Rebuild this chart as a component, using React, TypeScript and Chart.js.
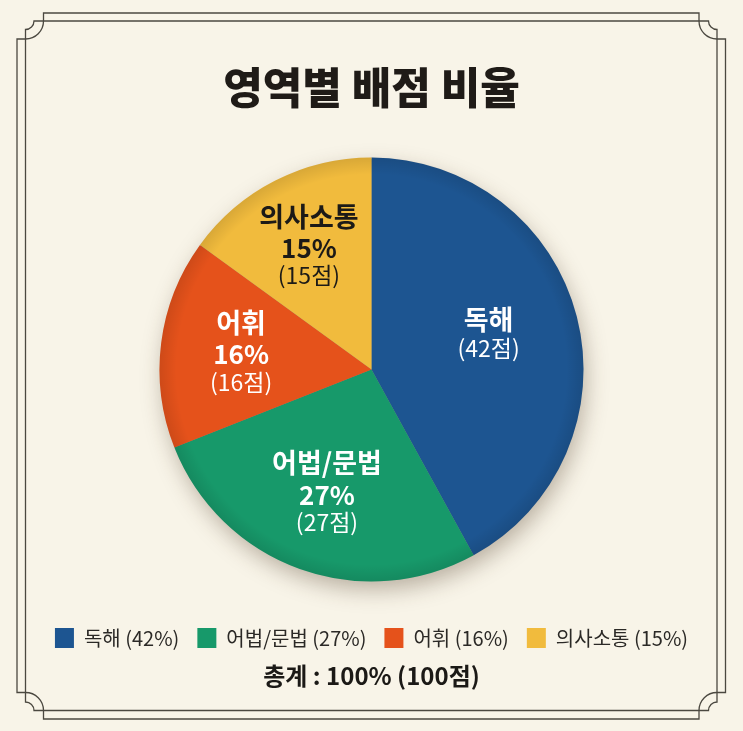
import React, { useEffect, useRef } from 'react';
import { Chart, registerables } from 'chart.js';

Chart.register(...registerables);

// ---- data ----
const categories = ['독해', '어법/문법', '어휘', '의사소통'];
const scores = [42, 27, 16, 15];
const percents = [42, 27, 16, 15];
const showPercent = [false, true, true, true];
const chartTitle = '영역별 배점 비율';

// ---- style ----
const sliceColors = ['#1d5591', '#17996a', '#e5521b', '#f1bb3d'];
const labelColors = ['#ffffff', '#ffffff', '#ffffff', '#1c1a17'];
const labelRadius = [0.57, 0.62, 0.62, 0.65];
const FONT = "'Noto Sans CJK KR', 'Noto Sans', sans-serif";
const BG = '#f8f4e8';

const framePlugin = {
  id: 'frame',
  beforeDraw(chart: any) {
    const { ctx, width, height } = chart;
    ctx.save();
    ctx.fillStyle = BG;
    ctx.fillRect(0, 0, width, height);
    const xoL = 17, xiL = 25.5, xoR = 725.5, xiR = 717;
    const yoT = 13, yiT = 21, yoB = 719, yiB = 710.5;
    const R = 18, r = 8.5;
    ctx.strokeStyle = '#4b4840';
    ctx.lineWidth = 1.3;
    // outer
    ctx.beginPath();
    ctx.moveTo(xiL + R, yoT);
    ctx.lineTo(xiR - R, yoT);
    ctx.lineTo(xiR - R, yiT);
    ctx.arc(xiR, yiT, R, Math.PI, Math.PI / 2, true);
    ctx.lineTo(xoR, yiT + R);
    ctx.lineTo(xoR, yiB - R);
    ctx.lineTo(xiR, yiB - R);
    ctx.arc(xiR, yiB, R, -Math.PI / 2, -Math.PI, true);
    ctx.lineTo(xiR - R, yoB);
    ctx.lineTo(xiL + R, yoB);
    ctx.lineTo(xiL + R, yiB);
    ctx.arc(xiL, yiB, R, 0, -Math.PI / 2, true);
    ctx.lineTo(xoL, yiB - R);
    ctx.lineTo(xoL, yiT + R);
    ctx.lineTo(xiL, yiT + R);
    ctx.arc(xiL, yiT, R, Math.PI / 2, 0, true);
    ctx.closePath();
    ctx.stroke();
    // inner
    ctx.beginPath();
    ctx.moveTo(xiL + r, yiT);
    ctx.lineTo(xiR - r, yiT);
    ctx.arc(xiR, yiT, r, Math.PI, Math.PI / 2, true);
    ctx.lineTo(xiR, yiB - r);
    ctx.arc(xiR, yiB, r, -Math.PI / 2, -Math.PI, true);
    ctx.lineTo(xiL + r, yiB);
    ctx.arc(xiL, yiB, r, 0, -Math.PI / 2, true);
    ctx.lineTo(xiL, yiT + r);
    ctx.arc(xiL, yiT, r, Math.PI / 2, 0, true);
    ctx.closePath();
    ctx.stroke();
    ctx.restore();
  },
};

const shadowPlugin = {
  id: 'pieShadow',
  beforeDatasetsDraw(chart: any) {
    const arc = chart.getDatasetMeta(0).data[0];
    if (!arc) return;
    const { x, y, outerRadius } = arc.getProps(['x', 'y', 'outerRadius'], true);
    const ctx = chart.ctx;
    ctx.save();
    ctx.shadowColor = 'rgba(70, 50, 30, 0.35)';
    ctx.shadowBlur = 22;
    ctx.shadowOffsetX = 3;
    ctx.shadowOffsetY = 9;
    ctx.fillStyle = '#888';
    ctx.beginPath();
    ctx.arc(x, y, outerRadius - 1, 0, Math.PI * 2);
    ctx.fill();
    ctx.restore();
  },
};

const labelPlugin = {
  id: 'sliceLabels',
  afterDatasetsDraw(chart: any) {
    const ctx = chart.ctx;
    const meta = chart.getDatasetMeta(0);
    const first = meta.data[0];
    if (first) {
      const { x, y, outerRadius } = first.getProps(['x', 'y', 'outerRadius'], true);
      const g = ctx.createRadialGradient(x, y, outerRadius * 0.92, x, y, outerRadius);
      g.addColorStop(0, 'rgba(0,0,0,0)');
      g.addColorStop(1, 'rgba(0,0,0,0.1)');
      ctx.save();
      ctx.fillStyle = g;
      ctx.beginPath();
      ctx.arc(x, y, outerRadius, 0, Math.PI * 2);
      ctx.fill();
      ctx.restore();
    }
    meta.data.forEach((arc: any, i: number) => {
      const { x, y, startAngle, endAngle, outerRadius } = arc.getProps(
        ['x', 'y', 'startAngle', 'endAngle', 'outerRadius'],
        true
      );
      const mid = (startAngle + endAngle) / 2;
      const rr = outerRadius * labelRadius[i];
      const cx = x + Math.cos(mid) * rr;
      const cy = y + Math.sin(mid) * rr;
      const lines: { text: string; font: string }[] = [];
      lines.push({ text: categories[i], font: `bold 27px ${FONT}` });
      if (showPercent[i]) lines.push({ text: `${percents[i]}%`, font: `bold 26px ${FONT}` });
      lines.push({ text: `(${scores[i]}점)`, font: `23px ${FONT}` });
      const offs = lines.length === 3 ? [-30, 1.5, 29] : [-20, 9];
      ctx.save();
      ctx.fillStyle = labelColors[i];
      ctx.textAlign = 'center';
      ctx.textBaseline = 'middle';
      lines.forEach((ln, k) => {
        ctx.font = ln.font;
        ctx.fillText(ln.text, cx, cy + offs[k]);
      });
      ctx.restore();
    });
  },
};

export default function App() {
  const canvasRef = useRef<HTMLCanvasElement | null>(null);

  useEffect(() => {
    if (!canvasRef.current) return;
    const total = scores.reduce((a, b) => a + b, 0);
    const chart = new Chart(canvasRef.current, {
      type: 'pie',
      data: {
        labels: categories,
        datasets: [
          {
            data: scores,
            backgroundColor: sliceColors,
            borderWidth: 0,
            radius: 212,
          } as any,
        ],
      },
      options: {
        responsive: true,
        maintainAspectRatio: false,
        animation: false,
        layout: { padding: { top: 0, bottom: 0, left: 20, right: 20 } },
        plugins: {
          title: {
            display: true,
            text: chartTitle,
            color: '#1f1b17',
            font: { family: FONT, size: 43, weight: 900, lineHeight: 1.2 },
            padding: { top: 62, bottom: 15.4 },
          },
          legend: {
            position: 'bottom',
            labels: {
              boxWidth: 19,
              boxHeight: 20,
              padding: 18,
              color: '#2b2926',
              font: { family: FONT, size: 20 },
              generateLabels: () =>
                categories.map((c, i) => ({
                  text: `${c} (${percents[i]}%)`,
                  fillStyle: sliceColors[i],
                  strokeStyle: sliceColors[i],
                  lineWidth: 0,
                  hidden: false,
                  index: i,
                  fontColor: '#2b2926',
                })),
            },
          },
          subtitle: {
            display: true,
            position: 'bottom',
            text: `총계 : ${total}% (${total}점)`,
            color: '#1b1916',
            font: { family: FONT, size: 24, weight: 'bold', lineHeight: 1.2 },
            padding: { top: 3.6, bottom: 40.6 },
          },
          tooltip: { enabled: false },
        },
      },
      plugins: [framePlugin, shadowPlugin, labelPlugin],
    });
    return () => chart.destroy();
  }, []);

  return (
    <div style={{ position: 'absolute', left: 0, top: 0, width: 743, height: 731 }}>
      <canvas ref={canvasRef} />
    </div>
  );
}
